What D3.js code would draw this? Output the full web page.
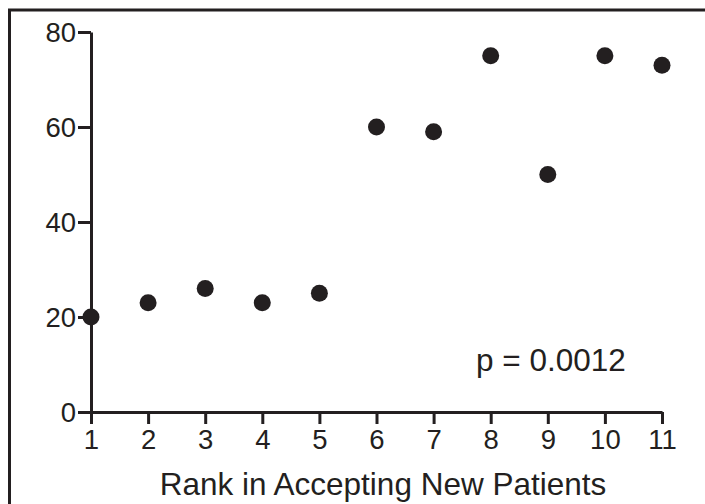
<!DOCTYPE html>
<html>
<head>
<meta charset="utf-8">
<script src="https://cdn.jsdelivr.net/npm/d3@7"></script>
<style>
  body { margin: 0; background: #fff; }
  svg { display: block; }
  text { font-family: "Liberation Sans", Arial, Helvetica, sans-serif; fill: #231f20; }
</style>
</head>
<body>
<svg id="canvas" width="705" height="504"></svg>
<script>
// Data.
let ranks = [1, 2, 3, 4, 5, 6, 7, 8, 9, 10, 11];
let values = [20, 23, 26, 23, 25, 60, 59, 75, 50, 75, 73];
let yTicks = [0, 20, 40, 60, 80];
let xLabel = "Rank in Accepting New Patients";
let pText = "p = 0.0012";

let ink = "#231f20";
let svg = d3.select("#canvas");

let x = d3.scaleLinear().domain([1, 11]).range([91, 662]);
let y = d3.scaleLinear().domain([0, 80]).range([412, 32]);

// Frame: top and left edges only.
svg.append("path")
    .attr("d", "M9.5,504 V10 H705")
    .attr("fill", "none")
    .attr("stroke", ink)
    .attr("stroke-width", 3);

let xAxis = svg.append("g")
    .attr("transform", `translate(0,${y(0)})`)
    .call(d3.axisBottom(x).tickValues(ranks).tickFormat(d3.format("d")).tickSize(12).tickSizeOuter(0).tickPadding(5));

let yAxis = svg.append("g")
    .attr("transform", `translate(${x(1)},0)`)
    .call(d3.axisLeft(y).tickValues(yTicks).tickSize(13).tickSizeOuter(0).tickPadding(2));

[xAxis, yAxis].forEach(g => {
    g.select(".domain").attr("stroke", ink).attr("stroke-width", 3);
    g.selectAll(".tick line").attr("stroke", ink).attr("stroke-width", 3);
    g.selectAll(".tick text")
        .attr("fill", ink)
        .style("font-size", "27.5px")
        .style("font-family", "'Liberation Sans', Arial, sans-serif");
});
yAxis.selectAll(".tick text").attr("dy", "0.35em");

svg.append("g")
    .selectAll("circle")
    .data(ranks)
    .enter()
    .append("circle")
    .attr("cx", d => x(d))
    .attr("cy", (d, i) => y(values[i]))
    .attr("r", 8.5)
    .attr("fill", ink);

svg.append("text")
    .attr("x", 383)
    .attr("y", 495)
    .attr("text-anchor", "middle")
    .style("font-size", "31.5px")
    .text(xLabel);

svg.append("text")
    .attr("x", 476)
    .attr("y", 371)
    .style("font-size", "31.5px")
    .text(pText);
</script>
</body>
</html>
